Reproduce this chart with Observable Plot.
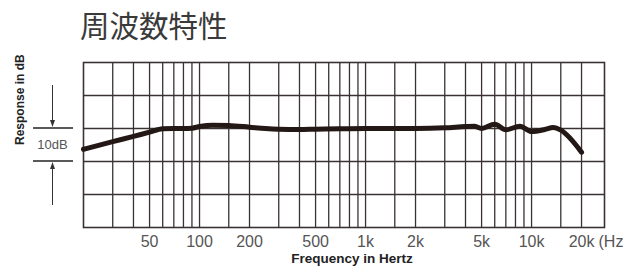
<!DOCTYPE html>
<html><head><meta charset="utf-8">
<script src="https://cdn.jsdelivr.net/npm/d3@7"></script>
<script src="https://cdn.jsdelivr.net/npm/@observablehq/plot@0.6"></script>
<style>
html,body{margin:0;padding:0;background:#fff;}
#title{height:50px;box-sizing:border-box;padding-left:80px;padding-top:7px;font-family:"Noto Sans CJK JP","Noto Sans CJK SC",sans-serif;font-size:29.5px;line-height:35px;color:#3a3a3a;font-weight:400;}
#chart svg{display:block;}
</style></head><body>
<div id="title">周波数特性</div>
<div id="chart"></div>
<script>
// Frequency response (Hz) and level (dB)
const freq = [20, 30, 40, 50, 60, 70, 80, 90, 100, 120, 150, 200, 250, 300, 400, 500, 700, 1000, 2000, 3000, 4000, 4500, 5000, 6000, 7000, 8500, 10000, 12000, 13500, 15000, 20000];
const response = [-6.3, -4.0, -2.4, -1.1, -0.1, 0, 0, 0.1, 0.6, 1.0, 0.9, 0.4, 0, -0.2, -0.3, -0.2, -0.1, 0, 0, 0.2, 0.6, 0.7, 0, 1.3, -0.4, 0.7, -0.9, -0.3, 0.3, -0.5, -7.2];
const gridFreqs = [30, 40, 50, 60, 70, 80, 90, 100, 150, 200, 300, 400, 500, 600, 700, 800, 900, 1000, 1500, 2000, 3000, 4000, 5000, 6000, 7000, 8000, 9000, 10000, 15000, 20000];
const gridDB = [10, 0, -10, -20];
const tickFreqs = [50, 100, 200, 500, 1000, 2000, 5000, 10000, 20000];
const tickLabels = ["50", "100", "200", "500", "1k", "2k", "5k", "10k", "20k"];
const unitLabel = "(Hz";
const xLabel = "Frequency in Hertz";
const yLabel = "Response in dB";
const bracketLabel = "10dB";
const bracketDB = [0, -10];

const ink = "#231815";
const gridColor = "#3a3232";
const textColor = "#555";
const data = freq.map((f, i) => ({f, r: response[i]}));
const ticks = tickFreqs.map((f, i) => ({f, label: tickLabels[i]}));

const chart = Plot.plot({
  width: 630, height: 225,
  marginLeft: 83, marginRight: 26, marginTop: 12, marginBottom: 48,
  x: {type: "log", domain: [20, 27500], axis: null},
  y: {domain: [-30, 20], axis: null},
  style: {fontFamily: "'Liberation Sans', Arial, sans-serif", background: "#fff", overflow: "visible"},
  marks: [
    Plot.ruleX(gridFreqs, {stroke: gridColor, strokeWidth: 1.3}),
    Plot.ruleY(gridDB, {stroke: gridColor, strokeWidth: 1.3}),
    Plot.frame({stroke: gridColor, strokeWidth: 1.6}),
    Plot.line(data, {x: "f", y: "r", stroke: ink, strokeWidth: 5, curve: "monotone-x", strokeLinejoin: "round", strokeLinecap: "round"}),
    Plot.text(ticks, {x: "f", text: "label", frameAnchor: "bottom", lineAnchor: "top", dy: 8, fontSize: 16, fill: textColor}),
    Plot.text([tickFreqs[tickFreqs.length - 1]], {x: d => d, text: () => unitLabel, frameAnchor: "bottom", textAnchor: "start", lineAnchor: "top", dx: 17, dy: 8, fontSize: 16, fill: textColor}),
    Plot.text([xLabel], {text: d => d, frameAnchor: "bottom", dx: 8, dy: 35, fontSize: 13.5, fontWeight: "bold", fill: "#222"}),
    Plot.text([yLabel], {text: d => d, frameAnchor: "left", dx: -63, rotate: -90, fontSize: 12, fontWeight: "bold", fill: "#222"})
  ]
});
document.getElementById("chart").appendChild(chart);

// 10 dB bracket annotation, positioned with the chart's y scale
const ys = chart.scale("y");
const yA = ys.apply(bracketDB[0]), yB = ys.apply(bracketDB[1]);
const svg = d3.select(chart);
const g = svg.append("g");
const bx = 52.5;
g.selectAll("line.h").data([yA, yB]).join("line")
  .attr("x1", 33).attr("x2", 73).attr("y1", d => d).attr("y2", d => d)
  .attr("stroke", "#222").attr("stroke-width", 1.3);
g.append("line").attr("x1", bx).attr("x2", bx).attr("y1", yA - 43).attr("y2", yA - 3).attr("stroke", "#333").attr("stroke-width", 1);
g.append("path").attr("d", `M${bx - 2.5},${yA - 8}L${bx + 2.5},${yA - 8}L${bx},${yA - 1}Z`).attr("fill", "#333");
g.append("line").attr("x1", bx).attr("x2", bx).attr("y1", yB + 3).attr("y2", yB + 44).attr("stroke", "#333").attr("stroke-width", 1);
g.append("path").attr("d", `M${bx - 2.5},${yB + 8}L${bx + 2.5},${yB + 8}L${bx},${yB + 1}Z`).attr("fill", "#333");
g.append("text").attr("x", bx).attr("y", (yA + yB) / 2).attr("dy", "0.35em")
  .attr("text-anchor", "middle").attr("font-size", 13).attr("fill", textColor)
  .attr("font-family", "'Liberation Sans', Arial, sans-serif").text(bracketLabel);
</script>
</body></html>
